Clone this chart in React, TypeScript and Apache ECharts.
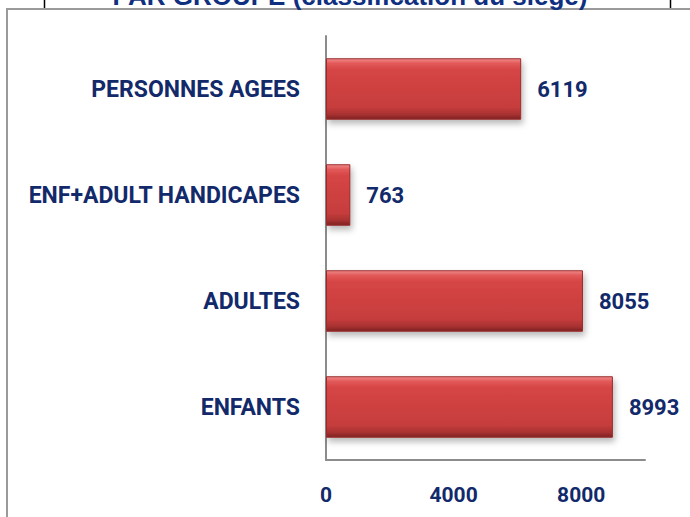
import React, { useEffect, useRef } from "react";
import * as echarts from "echarts";

const categories = ["PERSONNES AGEES", "ENF+ADULT HANDICAPES", "ADULTES", "ENFANTS"];
const values = [6119, 763, 8055, 8993];
const titleText = "PAR GROUPE (classification du siège)";
const axisMax = 10000;
const axisInterval = 4000;

const NAVY = "#12296a";

export default function App() {
  const ref = useRef<HTMLDivElement>(null);
  useEffect(() => {
    document.body.style.margin = "0";
    const chart = echarts.init(ref.current!, null, { renderer: "svg" });
    chart.setOption({
      animation: false,
      backgroundColor: "#ffffff",
      grid: { left: 326, right: 45, top: 36, bottom: 57, containLabel: false },
      xAxis: {
        type: "value",
        min: 0,
        max: axisMax,
        interval: axisInterval,
        axisLine: { show: true, lineStyle: { color: "#8c8c8c", width: 2 } },
        axisTick: { show: false },
        splitLine: { show: false },
        axisLabel: {
          showMaxLabel: false,
          margin: 24,
          formatter: (v: number) => String(v),
          color: NAVY,
          fontFamily: "Roboto",
          fontWeight: "bold",
          fontSize: 21,
        },
      },
      yAxis: {
        type: "category",
        inverse: true,
        data: categories,
        axisLine: { show: true, lineStyle: { color: "#8c8c8c", width: 2 } },
        axisTick: { show: false },
        axisLabel: {
          margin: 26,
          color: NAVY,
          fontFamily: "Roboto",
          fontWeight: "bold",
          fontSize: 23,
        },
      },
      series: [
        {
          type: "bar",
          data: values,
          barCategoryGap: "42%",
          itemStyle: {
            color: new echarts.graphic.LinearGradient(0, 0, 0, 1, [
              { offset: 0, color: "#f08a8a" },
              { offset: 0.08, color: "#e25858" },
              { offset: 0.18, color: "#d64545" },
              { offset: 0.8, color: "#c63d3d" },
              { offset: 0.92, color: "#a83131" },
              { offset: 1, color: "#7e2222" },
            ]),
            borderColor: "#9a2c2c",
            borderWidth: 1,
            shadowColor: "rgba(0,0,0,0.28)",
            shadowBlur: 6,
            shadowOffsetX: 2,
            shadowOffsetY: 4,
          },
          label: {
            show: true,
            position: "right",
            distance: 16,
            color: NAVY,
            fontFamily: "Roboto",
            fontWeight: "bold",
            fontSize: 22,
          },
        },
      ],
      graphic: [
        {
          type: "rect",
          shape: { x: 7, y: 9, width: 720, height: 540 },
          style: { fill: "none", stroke: "#9a9a9a", lineWidth: 2 },
          silent: true,
        },
        {
          type: "line",
          shape: { x1: 44.5, y1: 0, x2: 44.5, y2: 8 },
          style: { stroke: "#000000", lineWidth: 1.5 },
        },
        {
          type: "line",
          shape: { x1: 670.5, y1: 0, x2: 670.5, y2: 8 },
          style: { stroke: "#000000", lineWidth: 1.5 },
        },
        {
          type: "text",
          x: 350,
          y: -4,
          style: {
            text: titleText,
            align: "center",
            verticalAlign: "middle",
            fill: "#0f2f80",
            font: "bold 26px 'Liberation Sans', Arial, sans-serif",
          },
        },
      ],
    });
    return () => chart.dispose();
  }, []);
  return (
    <div
      ref={ref}
      style={{ position: "fixed", left: 0, top: 0, width: 690, height: 517 }}
    />
  );
}
